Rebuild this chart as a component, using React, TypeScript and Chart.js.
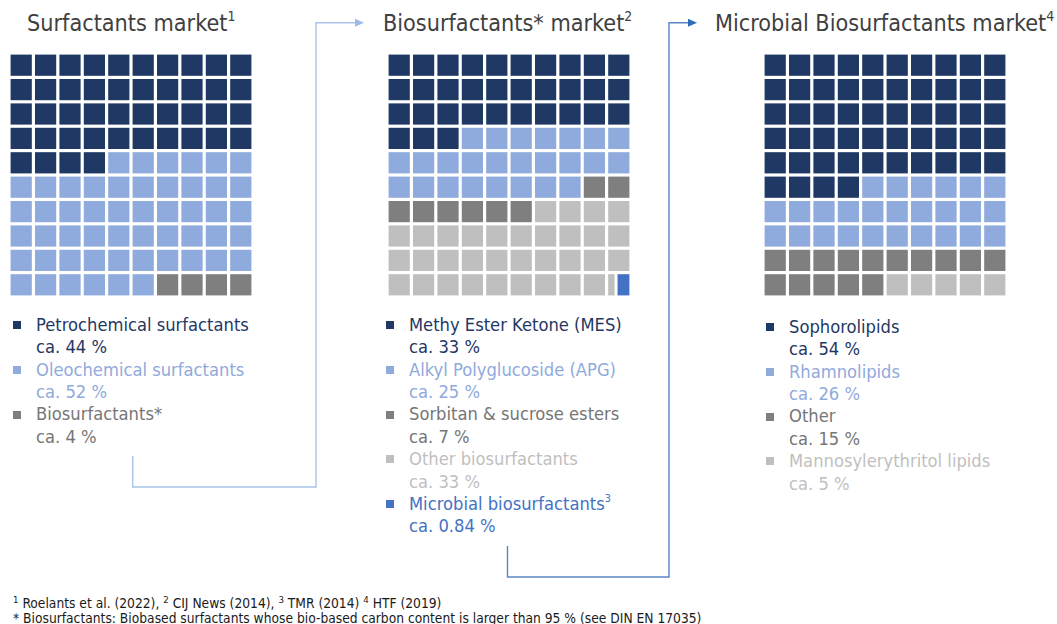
import React, { useEffect, useRef } from "react";
import { Chart, registerables } from "chart.js";

Chart.register(...registerables);

// ---------- DATA ----------
const surfCategories = ["Petrochemical surfactants", "Oleochemical surfactants", "Biosurfactants*"];
const surfShares = ["ca. 44 %", "ca. 52 %", "ca. 4 %"];
const surfCells = [44, 52, 4];

const bioCategories = [
  "Methy Ester Ketone (MES)",
  "Alkyl Polyglucoside (APG)",
  "Sorbitan & sucrose esters",
  "Other biosurfactants",
  "Microbial biosurfactants",
];
const bioShares = ["ca. 33 %", "ca. 25 %", "ca. 7 %", "ca. 33 %", "ca. 0.84 %"];
// cells as drawn in the waffle (the last cell is shared between "Other" and "Microbial")
const bioCells = [33, 25, 8, 33.37, 0.63];

const micCategories = ["Sophorolipids", "Rhamnolipids", "Other", "Mannosylerythritol lipids"];
const micShares = ["ca. 54 %", "ca. 26 %", "ca. 15 %", "ca. 5 %"];
const micCells = [54, 26, 15, 5];

const gridRowLabels = ["1", "2", "3", "4", "5", "6", "7", "8", "9", "10"];

// ---------- STYLE ----------
const NAVY = "#1F3864";
const LIGHT = "#8FAADC";
const DGRAY = "#7F7F7F";
const LGRAY = "#BFBFBF";
const BLUE = "#4472C4";

const surfColors = [NAVY, LIGHT, DGRAY];
const surfText = [NAVY, LIGHT, "#767676"];
const bioColors = [NAVY, LIGHT, DGRAY, LGRAY, BLUE];
const bioText = [NAVY, LIGHT, "#767676", LGRAY, BLUE];
const micColors = [NAVY, LIGHT, DGRAY, LGRAY];
const micText = [NAVY, LIGHT, "#767676", LGRAY];

const FONT = '"DejaVu Sans Condensed", "DejaVu Sans", sans-serif';
const GAP = 0.13;
const SPLIT_GAP = 0.07;
const CANVAS = 244;

type Seg = { a: number; b: number; color: string };

function buildDatasets(cells: number[], colors: string[]) {
  const rows: Seg[][] = Array.from({ length: 10 }, () => []);
  let start = 0;
  cells.forEach((n, ci) => {
    const end = start + n;
    for (let k = Math.floor(start + 1e-9); k < Math.ceil(end - 1e-9); k++) {
      const f0 = Math.max(start, k) - k;
      const f1 = Math.min(end, k + 1) - k;
      const row = Math.floor(k / 10);
      const col = k % 10;
      const inner = 1 - GAP;
      let a = col + GAP / 2 + f0 * inner;
      let b = col + GAP / 2 + f1 * inner;
      if (f0 > 1e-6) a += SPLIT_GAP * inner;
      if (f1 < 1 - 1e-6) b -= SPLIT_GAP * inner;
      rows[row].push({ a, b, color: colors[ci] });
    }
    start = end;
  });
  const maxSegs = Math.max(...rows.map((r) => r.length));
  const datasets: any[] = [];
  for (let s = 0; s < maxSegs; s++) {
    datasets.push({
      data: rows.map((r) => (r[s] ? [r[s].a, r[s].b] : null)),
      backgroundColor: rows.map((r) => (r[s] ? r[s].color : "rgba(0,0,0,0)")),
      borderWidth: 0,
      grouped: false,
      barPercentage: 0.87,
      categoryPercentage: 1,
    });
  }
  return datasets;
}

function Waffle({ cells, colors, left, top }: { cells: number[]; colors: string[]; left: number; top: number }) {
  const ref = useRef<HTMLCanvasElement>(null);
  useEffect(() => {
    if (!ref.current) return;
    const chart = new Chart(ref.current, {
      type: "bar",
      data: { labels: gridRowLabels, datasets: buildDatasets(cells, colors) },
      options: {
        indexAxis: "y",
        animation: false,
        responsive: false,
        events: [],
        layout: { padding: 0 },
        plugins: { legend: { display: false }, tooltip: { enabled: false }, title: { display: false } },
        scales: {
          x: { type: "linear", min: 0, max: 10, display: false },
          y: { display: false },
        },
      } as any,
    });
    return () => chart.destroy();
  }, []);
  return (
    <canvas
      ref={ref}
      width={CANVAS}
      height={CANVAS}
      style={{ position: "absolute", left, top, width: CANVAS, height: CANVAS }}
    />
  );
}

function Legend({
  names,
  shares,
  colors,
  squares,
  left,
  top,
  supIndex,
  sup,
}: {
  names: string[];
  shares: string[];
  colors: string[];
  squares: string[];
  left: number;
  top: number;
  supIndex?: number;
  sup?: string;
}) {
  const LH = 22.4;
  return (
    <div style={{ position: "absolute", left, top, fontFamily: FONT, fontSize: 18.2, lineHeight: LH + "px", whiteSpace: "nowrap" }}>
      {names.map((n, i) => (
        <div key={i} style={{ position: "relative", color: colors[i] }}>
          <span
            style={{
              position: "absolute",
              left: -23,
              top: LH / 2 - 4,
              width: 8,
              height: 8,
              background: squares[i],
            }}
          />
          <div>
            {n}
            {supIndex === i && sup ? <sup style={{ fontSize: "0.6em", verticalAlign: "0.7em", lineHeight: 0 }}>{sup}</sup> : null}
          </div>
          <div>{shares[i]}</div>
        </div>
      ))}
    </div>
  );
}

function Title({ text, sup, left }: { text: string; sup: string; left: number }) {
  return (
    <div
      style={{
        position: "absolute",
        left,
        top: 9,
        fontFamily: FONT,
        fontSize: 23.2,
        lineHeight: "28px",
        color: "#404040",
        whiteSpace: "nowrap",
      }}
    >
      {text}
      <sup style={{ fontSize: "0.6em", verticalAlign: "0.75em", lineHeight: 0 }}>{sup}</sup>
    </div>
  );
}

export default function App() {
  return (
    <div style={{ position: "absolute", left: 0, top: 0, width: 1057, height: 624, background: "#fff", overflow: "hidden" }}>
      <svg width={1057} height={624} style={{ position: "absolute", left: 0, top: 0 }}>
        <path d="M132.7 456 V487 H316 V22.7 H356" fill="none" stroke="#A9C4E8" strokeWidth={1.4} />
        <polygon points="364,22.7 355,18.7 355,26.7" fill="#9DBBE6" />
        <path d="M507.5 546 V577 H669 V22.7 H689" fill="none" stroke="#5B86C8" strokeWidth={1.4} />
        <polygon points="697,22.7 688,18.7 688,26.7" fill="#2E6DBA" />
      </svg>

      <Title text="Surfactants market" sup="1" left={27} />
      <Title text="Biosurfactants* market" sup="2" left={383} />
      <Title text="Microbial Biosurfactants market" sup="4" left={715} />

      <Waffle cells={surfCells} colors={surfColors} left={9.1} top={53.4} />
      <Waffle cells={bioCells} colors={bioColors} left={386.7} top={53.4} />
      <Waffle cells={micCells} colors={micColors} left={762.7} top={53.4} />

      <Legend names={surfCategories} shares={surfShares} colors={surfText} squares={surfColors} left={36} top={313.8} />
      <Legend
        names={bioCategories}
        shares={bioShares}
        colors={bioText}
        squares={bioColors}
        left={409}
        top={313.8}
        supIndex={4}
        sup="3"
      />
      <Legend names={micCategories} shares={micShares} colors={micText} squares={micColors} left={789} top={315.8} />

      <div
        style={{
          position: "absolute",
          left: 13,
          top: 596,
          fontFamily: '"Liberation Sans Narrow", "Arial Narrow", "DejaVu Sans Condensed", sans-serif',
          fontSize: 13.7,
          lineHeight: "15px",
          color: "#1a1a1a",
          whiteSpace: "nowrap",
        }}
      >
        <div>
          <sup style={{ fontSize: "0.7em", verticalAlign: "0.5em", lineHeight: 0 }}>1</sup> Roelants et al. (2022),{" "}
          <sup style={{ fontSize: "0.7em", verticalAlign: "0.5em", lineHeight: 0 }}>2</sup> CIJ News (2014),{" "}
          <sup style={{ fontSize: "0.7em", verticalAlign: "0.5em", lineHeight: 0 }}>3</sup> TMR (2014){" "}
          <sup style={{ fontSize: "0.7em", verticalAlign: "0.5em", lineHeight: 0 }}>4</sup> HTF (2019)
        </div>
        <div>* Biosurfactants: Biobased surfactants whose bio-based carbon content is larger than 95 % (see DIN EN 17035)</div>
      </div>
    </div>
  );
}
